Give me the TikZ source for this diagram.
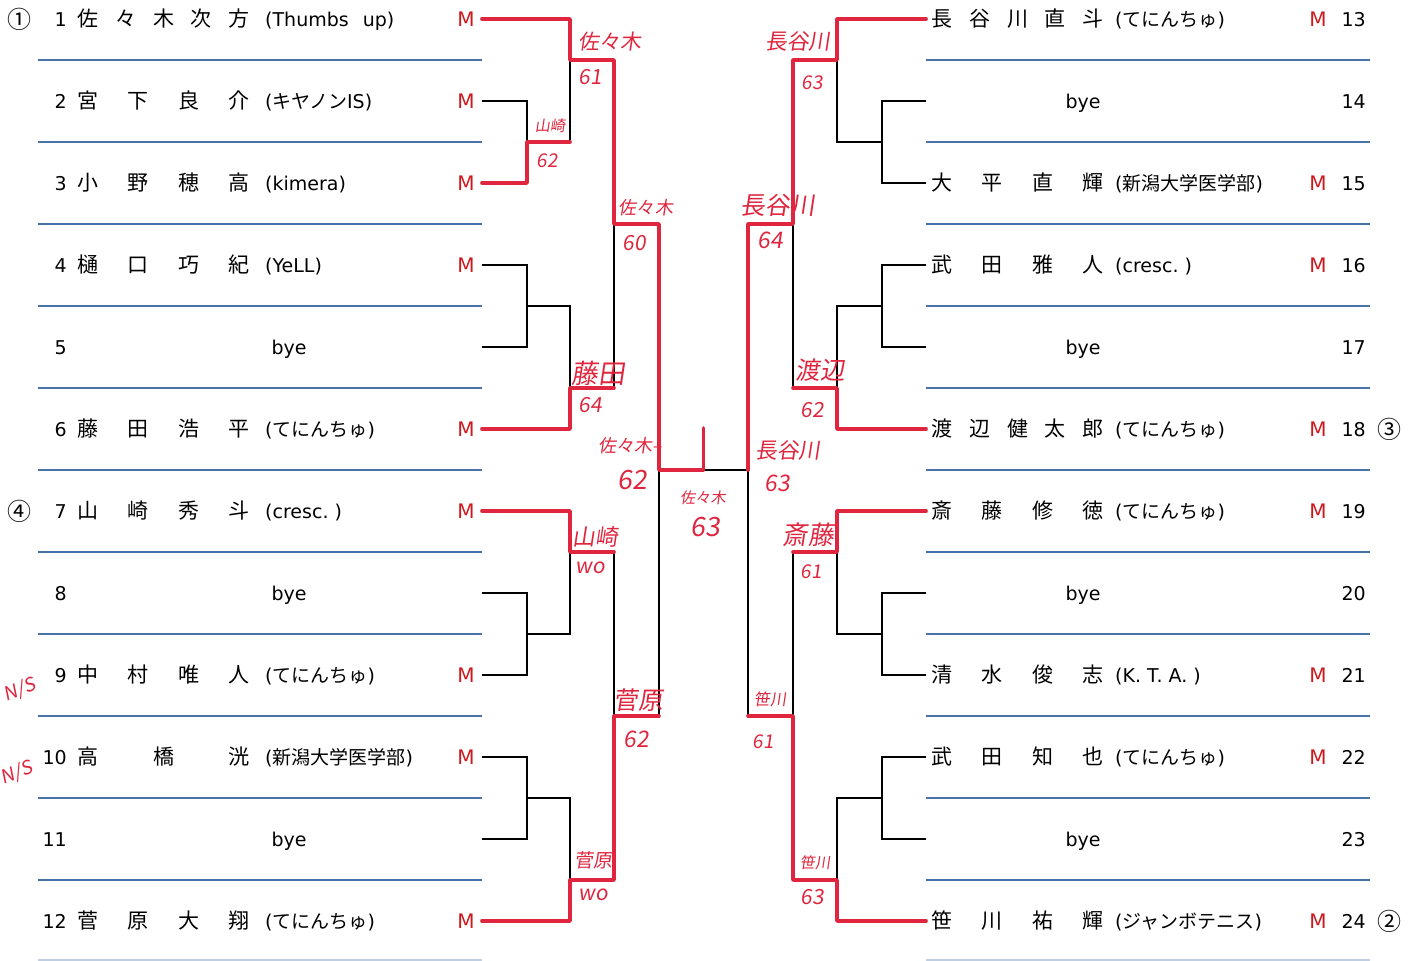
\documentclass[tikz,border=0pt]{standalone}
\usepackage{fontspec}
\setmainfont{DejaVu Sans}
\newfontfamily\jp{Noto Sans CJK JP}
\newfontfamily\hand[FakeSlant=0.15]{Noto Sans CJK JP}
\usetikzlibrary{calc}
\definecolor{rule}{RGB}{72,114,168}
\definecolor{pen}{RGB}{224,38,62}
\definecolor{mark}{RGB}{205,25,30}
\newcommand\jname[5]{\foreach \c [count=\i] in #5 \node[ch] (c#1-\i) at ({#2+(\i-1)*151/(#4-1)},#3) {\c};}
\begin{document}
\begin{tikzpicture}[x=1pt,y=-1pt,line join=miter,
 bk/.style={line width=1.6pt},
 win/.style={draw=pen,line width=3.6pt,line cap=round,line join=round},
 ln/.style={draw=rule,line width=1.8pt},
 txt/.style={inner sep=0pt,anchor=base,yshift=-7pt,font=\fontsize{19}{22}\selectfont},
 ch/.style={txt,font=\jp\fontsize{21}{24}\selectfont},
 mk/.style={txt,text=mark,font=\fontsize{20}{22}\selectfont},
 hw/.style={inner sep=0pt,text=pen,font=\hand\fontsize{19}{22}\selectfont},
 rk/.style={inner sep=0pt,font=\jp\fontsize{24}{26}\selectfont}]
\useasboundingbox(0,0)rectangle(1417,961);
\clip(0,0)rectangle(1417,961);
\fill[white](0,0)rectangle(1417,961);
\foreach \k in {0,...,10}{\draw[ln](38,{60+82*\k})--(482,{60+82*\k});\draw[ln](926,{60+82*\k})--(1370,{60+82*\k});}
\draw[ln,draw=rule!35](38,960)--(482,960)(926,960)--(1370,960);
\foreach \n/\y/\k/\nm/\tm in {1/19/5/{佐,々,木,次,方}/{(Thumbs\hspace{14pt}up)},2/101/4/{宮,下,良,介}/{({\jp キヤノン}IS)},3/183/4/{小,野,穂,高}/{(kimera)},4/265/4/{樋,口,巧,紀}/{(YeLL)},6/429/4/{藤,田,浩,平}/{({\jp てにんちゅ})},7/511/4/{山,崎,秀,斗}/{(cresc.\ )},9/675/4/{中,村,唯,人}/{({\jp てにんちゅ})},10/757/3/{高,橋,洸}/{({\jp 新潟大学医学部})},12/921/4/{菅,原,大,翔}/{({\jp てにんちゅ})}}{
 \node[txt,anchor=base east](no\n)at(67,\y){\n};
 \jname{\n}{88}{\y}{\k}{\nm}
 \node[txt,anchor=base west](tm\n)at(265,\y){\tm};
 \node[mk](m\n)at(466,\y){M};}
\foreach \n/\y in {5/347,8/593,11/839}{\node[txt,anchor=base east](no\n)at(67,\y){\n};\node[txt](by\n)at(289,\y){bye};}
\foreach \n/\y/\k/\nm/\tm in {13/19/5/{長,谷,川,直,斗}/{({\jp てにんちゅ})},15/183/4/{大,平,直,輝}/{({\jp 新潟大学医学部})},16/265/4/{武,田,雅,人}/{(cresc.\ )},18/429/5/{渡,辺,健,太,郎}/{({\jp てにんちゅ})},19/511/4/{斎,藤,修,徳}/{({\jp てにんちゅ})},21/675/4/{清,水,俊,志}/{(K.\ T.\ A.\ )},22/757/4/{武,田,知,也}/{({\jp てにんちゅ})},24/921/4/{笹,川,祐,輝}/{({\jp ジャンボテニス})}}{
 \jname{\n}{942}{\y}{\k}{\nm}
 \node[txt,anchor=base west](tm\n)at(1115,\y){\tm};
 \node[mk](m\n)at(1318,\y){M};
 \node[txt,anchor=base east](no\n)at(1366,\y){\n};}
\foreach \n/\y in {14/101,17/347,20/593,23/839}{\node[txt](by\n)at(1083,\y){bye};\node[txt,anchor=base east](no\n)at(1366,\y){\n};}
\node[rk](r1)at(20,19){①};
\node[rk](r4)at(20,511){④};
\node[rk](r3)at(1389,429){③};
\node[rk](r2)at(1389,921){②};
\foreach \n/\y [count=\j from 13] in {1/19,2/101,3/183,4/265,5/347,6/429,7/511,8/593,9/675,10/757,11/839,12/921}{\coordinate(e\n)at(482,\y);\coordinate(e\j)at(926,\y);}
\coordinate(p1)at(527,142);\coordinate(p2)at(527,306);\coordinate(p3)at(527,634);\coordinate(p4)at(527,798);
\coordinate(q1)at(570,60);\coordinate(q2)at(570,388);\coordinate(q3)at(570,552);\coordinate(q4)at(570,880);
\coordinate(r1)at(614,224);\coordinate(r2)at(614,716);\coordinate(s1)at(659,470);
\coordinate(P1)at(882,142);\coordinate(P2)at(882,306);\coordinate(P3)at(882,634);\coordinate(P4)at(882,798);
\coordinate(Q1)at(837,60);\coordinate(Q2)at(837,388);\coordinate(Q3)at(837,552);\coordinate(Q4)at(837,880);
\coordinate(R1)at(793,224);\coordinate(R2)at(793,716);\coordinate(S1)at(748,470);
\coordinate(ctr)at($(s1)!.5!(S1)$);
\draw[bk](e2)-|(p1)|-(e3) (e1)-|(q1)|-(p1) (e4)-|(p2)|-(e5) (p2)-|(q2)|-(e6) (q1)-|(r1)|-(q2);
\draw[bk](e8)-|(p3)|-(e9) (e7)-|(q3)|-(p3) (e10)-|(p4)|-(e11) (p4)-|(q4)|-(e12) (q3)-|(r2)|-(q4);
\draw[bk](e14)-|(P1)|-(e15) (e13)-|(Q1)|-(P1) (e16)-|(P2)|-(e17) (P2)-|(Q2)|-(e18) (Q1)-|(R1)|-(Q2);
\draw[bk](e20)-|(P3)|-(e21) (e19)-|(Q3)|-(P3) (e22)-|(P4)|-(e23) (P4)-|(Q4)|-(e24) (Q3)-|(R2)|-(Q4);
\draw[bk](r1)-|(s1)|-(r2) (R1)-|(S1)|-(R2) (s1)--(S1);
\draw[win](e1)-|(q1)-|(r1)-|(s1)--(ctr)--++(0,-42);
\draw[win](e3)-|(p1)--(p1-|q1);
\draw[win](e6)-|(q2)--(q2-|r1);
\draw[win](e7)-|(q3)--(q3-|r2);
\draw[win](e12)-|(q4)-|(r2)--(r2-|s1);
\draw[win](e13)-|(Q1)-|(R1)-|(S1);
\draw[win](e18)-|(Q2)--(Q2-|R1);
\draw[win](e19)-|(Q3)--(Q3-|R2);
\draw[win](e24)-|(Q4)-|(R2)--(R2-|S1);
\foreach \t/\x/\y/\s [count=\i] in {佐々木/610/42/1.1,61/590/77/1.1,山崎/550/126/.8,62/547/161/1,佐々木/646/208/.95,60/634/243/1.1,藤田/598/373/1.4,64/590/405/1.1,佐々木–/630/446/.95,62/632/480/1.4,佐々木/703/498/.8,63/705/527/1.4,山崎/595/537/1.2,wo/590/568/1.1,菅原/638/700/1.3,62/636/739/1.2,菅原/593/860/1,wo/593/895/1.1,長谷川/798/41/1.15,63/812/83/1,長谷川/778/205/1.3,64/770/240/1.2,渡辺/820/370/1.3,62/812/410/1.1,長谷川/788/450/1.15,63/777/483/1.2,斎藤/808/535/1.35,61/811/572/1,笹川/770/699/.85,61/763/742/1,笹川/815/863/.8,63/812/897/1.1}
 \node[hw,scale=\s](hw\i)at(\x,\y){\t};
\node[hw,rotate=20](ns1)at(20,690){N/S};
\node[hw,rotate=20](ns2)at(17,773){N/S};
\end{tikzpicture}
\end{document}
